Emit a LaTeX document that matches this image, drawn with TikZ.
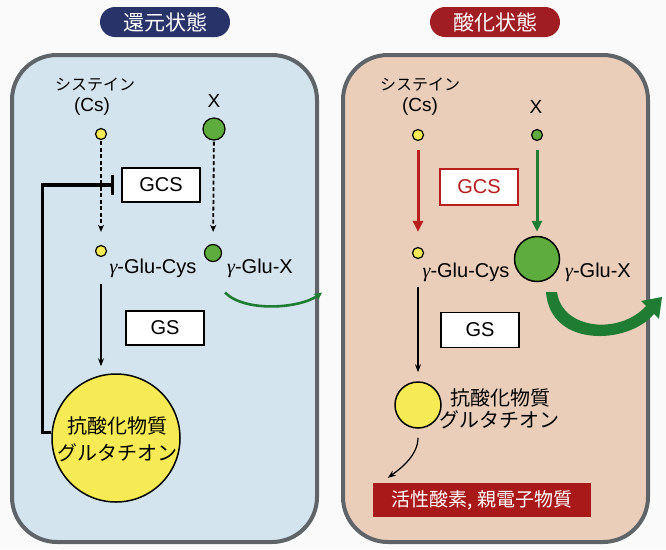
\documentclass[tikz,border=0pt]{standalone}
\usepackage{fontspec}
\setmainfont{Liberation Sans}
\newfontfamily\jp{Noto Sans CJK JP}
\newfontfamily\grk{Liberation Serif}
\usetikzlibrary{arrows.meta,shapes.misc}
\definecolor{cellblue}{RGB}{212,228,238}
\definecolor{cellpeach}{RGB}{234,206,186}
\definecolor{cellborder}{RGB}{95,100,105}
\definecolor{navy}{RGB}{40,52,105}
\definecolor{darkred}{RGB}{160,30,35}
\definecolor{boxred}{RGB}{170,25,25}
\definecolor{grn}{RGB}{95,172,62}
\definecolor{dgrn}{RGB}{30,125,50}
\definecolor{yel}{RGB}{246,234,85}
\definecolor{redarr}{RGB}{185,30,30}
\newcommand{\gm}{{\grk\itshape γ}}
\begin{document}
\begin{tikzpicture}[x=1pt,y=-1pt,
  cell/.style={draw=cellborder, line width=4pt, rounded corners=45pt},
  titlepill/.style={rounded rectangle, minimum width=130pt, minimum height=30pt, text=white, font=\jp\fontsize{21}{21}\selectfont, inner sep=0pt},
  jps/.style={font=\jp\fontsize{16}{16}\selectfont, inner sep=0pt},
  lat/.style={font=\fontsize{19}{19}\selectfont, inner sep=0pt},
  gl/.style={font=\fontsize{20}{20}\selectfont, inner sep=0pt},
  big/.style={font=\jp\fontsize{20}{20}\selectfont, inner sep=0pt},
  enz/.style={draw, line width=1.3pt, fill=white, minimum width=78pt, minimum height=34pt, inner sep=0pt, font=\fontsize{20}{20}\selectfont},
  dot/.style={circle, draw, line width=1.2pt, inner sep=0pt},
  dasharrow/.style={line width=1.8pt, dash pattern=on 4pt off 2.5pt, -{Stealth[length=7pt,width=6pt]}},
  solarrow/.style={line width=1.2pt, -{Stealth[length=8pt,width=6pt]}},
  redarrow/.style={draw=redarr, line width=3pt, -{Triangle[length=11pt,width=10pt]}, redarr},
  grnarrow/.style={draw=dgrn, line width=3pt, -{Triangle[length=11pt,width=10pt]}, dgrn},
  inhib/.style={line width=3.4pt, -{Bar[width=20pt]}}
]
\useasboundingbox (0,0) rectangle (666,549);
\fill[white!96!gray] (0,0) rectangle (666,549);

% ---------------- left panel ----------------
\draw[cell, fill=cellblue] (12,55) rectangle (317,542);
\node[titlepill, fill=navy] (tL) at (165,22) {還元状態};
\node[jps] (cysL) at (95,85) {システイン};
\node[lat] (csL) at (92,107) {(Cs)};
\node[dot, fill=yel, minimum size=11pt] (yL1) at (101,134) {};
\node[lat] (xL) at (214,101) {X};
\node[dot, fill=grn, minimum size=22pt] (gL1) at (214,129) {};
\node[enz] (gcsL) at (161,185) {GCS};
\node[dot, fill=yel, minimum size=11pt] (yL2) at (101,251) {};
\node[dot, fill=grn, minimum size=17pt] (gL2) at (213,253) {};
\node[gl] (gcL) at (153,268) {\gm-Glu-Cys};
\node[gl] (gxL) at (260,268) {\gm-Glu-X};
\node[enz] (gsL) at (165,328) {GS};
\node[dot, fill=yel, minimum size=128pt, line width=1.5pt] (gshL) at (116,438) {};
\node[big] (aoL) at (117,426) {抗酸化物質};
\node[big] (gtL) at (117,453) {グルタチオン};

\draw[dasharrow, shorten <=1pt, shorten >=13pt] (yL1) -- (yL2);
\draw[dasharrow, shorten <=1pt, shorten >=12pt] (gL1) -- (gL2);
\draw[solarrow, shorten <=6pt, shorten >=7pt] (gcL.south -| yL2) -- (gshL.north -| yL2);
\draw[inhib] (gshL.175) -- ++(-9,0) |- ([xshift=-7pt]gcsL.west);
\draw[dgrn, line width=2.6pt, -{Stealth[length=8pt,width=8pt]}]
  ([xshift=-35pt,yshift=-15pt]gxL.south) .. controls +(20,20) and +(-22,16) .. ([xshift=62pt,yshift=-15pt]gxL.south);

% ---------------- right panel ----------------
\draw[cell, fill=cellpeach] (343,55) rectangle (648,542);
\node[titlepill, fill=darkred] (tR) at (495,22) {酸化状態};
\node[jps] (cysR) at (420,85) {システイン};
\node[lat] (csR) at (420,107) {(Cs)};
\node[dot, fill=yel, minimum size=11pt] (yR1) at (418,135) {};
\node[lat] (xR) at (536,107) {X};
\node[dot, fill=grn, minimum size=11pt] (gR1) at (537,135) {};
\node[enz, draw=redarr, text=redarr, minimum height=36pt] (gcsR) at (479,187) {GCS};
\node[dot, fill=yel, minimum size=11pt] (yR2) at (418,253) {};
\node[dot, fill=grn, minimum size=45pt, line width=1.5pt] (gBig) at (537,259) {};
\node[gl] (gcR) at (466,272) {\gm-Glu-Cys};
\node[gl] (gxR) at (598,272) {\gm-Glu-X};
\node[enz, minimum height=35pt] (gsR) at (480,330) {GS};
\node[dot, fill=yel, minimum size=46pt, line width=1.5pt] (gshR) at (418,405) {};
\node[big] (aoR) at (500,398) {抗酸化物質};
\node[big] (gtR) at (499,420) {グルタチオン};
\node[fill=boxred, text=white, minimum width=218pt, minimum height=34pt, inner sep=0pt, font=\jp\fontsize{19}{19}\selectfont] (ros) at (482,500) {活性酸素, 親電子物質};

\draw[redarrow, shorten <=9pt, shorten >=15pt] (yR1) -- (yR2);
\draw[grnarrow, shorten <=9pt, shorten >=4pt] (gR1) -- (gBig);
\draw[solarrow, shorten <=5pt, shorten >=9pt] (gcR.south -| yR2) -- (gshR.north -| yR2);
\draw[solarrow, shorten <=9pt] (gshR.south) .. controls +(0,26) and +(14,-10) .. ([xshift=15pt,yshift=5pt]ros.north west);
\fill[dgrn] (546,292) .. controls (550,348) and (628,345) .. (654,314)
  -- (659,319) -- (662,297) -- (641,301) -- (646,306)
  .. controls (620,335) and (562,330) .. (557,292) -- cycle;
\end{tikzpicture}
\end{document}
